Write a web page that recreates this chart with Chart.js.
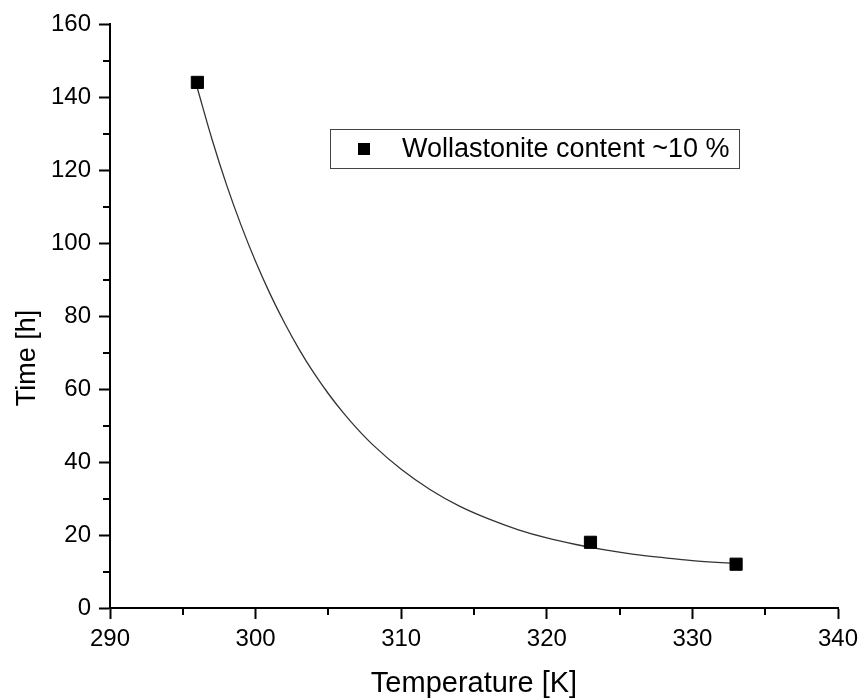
<!DOCTYPE html>
<html>
<head>
<meta charset="utf-8">
<script src="https://cdn.jsdelivr.net/npm/chart.js@4.4.1/dist/chart.umd.min.js"></script>
<style>
  html, body { margin: 0; padding: 0; background: #fff; }
</style>
</head>
<body>
<canvas id="chart" width="858" height="700"></canvas>
<script>
// measured points
const tempK = [296, 323, 333];
const timeH = [144, 18, 12];

// fitted decay curve
const fitTemp = [296, 297, 298, 299, 300, 301, 302, 303, 304, 305, 306, 307, 308, 310, 312, 314, 316, 318, 320, 322, 324, 326, 328, 330, 333];
const fitTime = [142.4, 128.5, 116.0, 104.9, 94.9, 86.0, 78.0, 70.8, 64.4, 58.7, 53.6, 49.0, 44.9, 38.0, 32.4, 27.9, 24.4, 21.5, 19.2, 17.4, 15.9, 14.7, 13.8, 13.0, 12.2];

// axes
const xMin = 290, xMax = 340, xMajor = 10, xMinor = 5;
const yMin = 0, yMax = 160, yMajor = 20, yMinor = 10;

const seriesLabel = 'Wollastonite content ~10 %';
const xTitle = 'Temperature [K]';
const yTitle = 'Time [h]';

const FONT = "'Liberation Sans', Arial, sans-serif";

function toXY(xs, ys) {
  let out = [];
  for (let i = 0; i < xs.length; i++) {
    out.push({ x: xs[i], y: ys[i] });
  }
  return out;
}

// minor ticks, axis titles and the boxed legend
const extras = {
  id: 'extras',
  afterDraw(chart) {
    const ctx = chart.ctx;
    const sx = chart.scales.x, sy = chart.scales.y;
    ctx.save();
    ctx.strokeStyle = '#000';
    ctx.lineWidth = 2;
    ctx.beginPath();
    for (let v = xMin + xMinor; v < xMax; v += xMajor) {
      const px = Math.round(sx.getPixelForValue(v));
      ctx.moveTo(px, sx.top);
      ctx.lineTo(px, sx.top + 7);
    }
    for (let v = yMin + yMinor; v < yMax; v += yMajor) {
      const py = Math.round(sy.getPixelForValue(v));
      ctx.moveTo(sy.right, py);
      ctx.lineTo(sy.right - 7, py);
    }
    ctx.stroke();

    // axis titles
    ctx.fillStyle = '#000';
    ctx.textAlign = 'center';
    ctx.textBaseline = 'middle';
    ctx.font = '29px ' + FONT;
    ctx.fillText(xTitle, (chart.chartArea.left + chart.chartArea.right) / 2, 684);
    ctx.font = '27px ' + FONT;
    ctx.save();
    ctx.translate(28, 358);
    ctx.rotate(-Math.PI / 2);
    ctx.fillText(yTitle, 0, 0);
    ctx.restore();

    // legend
    const ds = chart.data.datasets[0];
    ctx.lineWidth = 1;
    ctx.strokeStyle = '#444';
    ctx.strokeRect(330.5, 129.5, 409, 39);
    ctx.fillStyle = ds.backgroundColor;
    ctx.fillRect(358, 143, 12, 12);
    ctx.fillStyle = '#000';
    ctx.font = '27px ' + FONT;
    ctx.textAlign = 'left';
    ctx.fillText(ds.label, 402, 150);
    ctx.restore();
  }
};

let myChart = new Chart(document.getElementById('chart'), {
  type: 'scatter',
  data: {
    datasets: [{
      label: seriesLabel,
      data: toXY(tempK, timeH),
      pointStyle: 'rect',
      pointRadius: 8.6,
      pointHoverRadius: 8.6,
      backgroundColor: '#000',
      borderColor: '#000',
      borderWidth: 1,
      order: 0
    }, {
      label: 'fit',
      data: toXY(fitTemp, fitTime),
      showLine: true,
      pointRadius: 0,
      borderColor: '#333',
      borderWidth: 1.3,
      cubicInterpolationMode: 'monotone',
      fill: false,
      order: 1
    }]
  },
  options: {
    responsive: false,
    animation: false,
    layout: { padding: { top: 24, right: 20, left: 0, bottom: 0 } },
    plugins: {
      legend: { display: false },
      tooltip: { enabled: false }
    },
    scales: {
      x: {
        type: 'linear',
        min: xMin,
        max: xMax,
        afterFit(scale) { scale.height = 92; scale.paddingRight = 0; scale.paddingLeft = 0; },
        border: { display: true, color: '#000', width: 2 },
        grid: { drawOnChartArea: false, drawTicks: true, tickLength: 11, tickColor: '#000', tickWidth: 2 },
        ticks: { stepSize: xMajor, color: '#000', padding: 6, font: { family: FONT, size: 24 } }
      },
      y: {
        type: 'linear',
        min: yMin,
        max: yMax,
        afterFit(scale) { scale.width = 110; },
        border: { display: true, color: '#000', width: 2 },
        grid: { drawOnChartArea: false, drawTicks: true, tickLength: 11, tickColor: '#000', tickWidth: 2 },
        ticks: { stepSize: yMajor, color: '#000', padding: 8, font: { family: FONT, size: 24 } }
      }
    }
  },
  plugins: [extras]
});
</script>
</body>
</html>
